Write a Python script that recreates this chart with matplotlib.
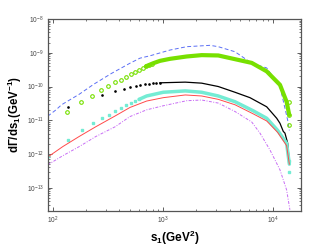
import numpy as np
import matplotlib
matplotlib.use("Agg")
import matplotlib.pyplot as plt

plt.rcParams['font.family'] = ['Liberation Sans', 'DejaVu Sans']
plt.rcParams['mathtext.fontset'] = 'custom'
plt.rcParams['mathtext.rm'] = 'Liberation Sans'
plt.rcParams['mathtext.bf'] = 'Liberation Sans:bold'

# ---- data (s1 in GeV^2, log10 of dGamma/ds1) ----
blue_s = [89, 106, 119, 172, 234, 339, 498, 614, 757, 1151, 1633, 2080, 2661, 3162, 4487, 6368, 8710, 11508, 13500, 14000]
blue_log = [-10.88, -10.69, -10.54, -10.23, -9.93, -9.61, -9.31, -9.16, -9.09, -8.92, -8.82, -8.80, -8.78, -8.82, -8.97, -9.31, -9.45, -10.0, -10.99, -11.3]

green_mk_s = [132, 180, 225, 272, 316, 366, 412, 460, 508, 555, 603, 649, 697, 741, 791, 14000, 14000, 14000]
green_mk_log = [-10.75, -10.46, -10.27, -10.11, -9.99, -9.88, -9.80, -9.72, -9.64, -9.57, -9.50, -9.45, -9.40, -9.36, -9.32, -10.45, -10.84, -11.14]
green_s = [697, 811, 933, 1151, 1633, 2234, 3162, 4487, 6368, 8710, 11508, 13213, 13964]
green_log = [-9.40, -9.31, -9.24, -9.18, -9.11, -9.07, -9.08, -9.19, -9.30, -9.55, -9.95, -10.45, -10.84]

black_dot_s = [135, 275, 366, 440, 500, 560, 620, 680, 740, 800, 860, 930]
black_dot_log = [-10.61, -10.25, -10.14, -10.06, -10.0, -9.97, -9.95, -9.93, -9.92, -9.91, -9.90, -9.89]
black_s = [930, 1585, 2234, 3162, 4487, 6138, 8710, 10740, 11508, 12331, 12764, 13521, 14000]
black_log = [-9.89, -9.87, -9.90, -10.0, -10.17, -10.33, -10.6, -10.94, -11.09, -11.33, -11.38, -11.68, -12.27]

cyan_mk_s = [89, 137, 182, 228, 277, 322, 366, 412, 460, 508, 555, 603, 14000, 14000]
cyan_mk_log = [-12.05, -11.58, -11.30, -11.09, -10.94, -10.83, -10.72, -10.63, -10.56, -10.49, -10.43, -10.38, -12.2, -12.52]
cyan_s = [603, 706, 1000, 1585, 2234, 3162, 4487, 6577, 8710, 10965, 13213, 14000]
cyan_log = [-10.38, -10.28, -10.17, -10.13, -10.17, -10.28, -10.45, -10.72, -10.94, -11.3, -11.68, -12.3]

red_s = [89, 122, 172, 244, 366, 498, 706, 1000, 1585, 2234, 3162, 4487, 6577, 8710, 10965, 13213, 14000]
red_log = [-12.09, -11.78, -11.48, -11.19, -10.87, -10.62, -10.43, -10.33, -10.25, -10.28, -10.38, -10.54, -10.81, -11.02, -11.36, -11.75, -12.3]

purple_s = [89, 122, 172, 244, 366, 498, 706, 1000, 1633, 2234, 3162, 4487, 6368, 7568, 9333, 11508, 13213, 14158]
purple_log = [-12.32, -12.05, -11.78, -11.48, -11.19, -10.89, -10.69, -10.57, -10.42, -10.40, -10.49, -10.74, -11.05, -11.38, -11.88, -12.47, -13.06, -13.65]

xticks = [1e2, 1e3, 1e4]
yticks = [1e-13, 1e-12, 1e-11, 1e-10, 1e-9, 1e-8]

# ---- figure ----
fig = plt.figure(figsize=(3.32, 2.5), dpi=100)
ax = fig.add_axes([48/332, 1-210.7/250, (300.7-48)/332, (210.7-19)/250])

def p(v):
    return 10.0 ** np.array(v)

c_blue = '#5b6ff5'
c_green = '#77e000'
c_cyan = '#74ecd4'
c_red = '#ff4a4a'
c_purple = '#c86cf5'

ax.plot(blue_s, p(blue_log), color=c_blue, lw=0.7, dashes=(4, 2.5))
ax.plot(green_s, p(green_log), color=c_green, lw=3.0, solid_capstyle='round')
ax.plot(green_mk_s, p(green_mk_log), ls='none', marker='o', ms=2.6, mfc='none', mec=c_green, mew=0.8)
ax.plot(black_s, p(black_log), color='black', lw=0.9)
ax.plot(black_dot_s, p(black_dot_log), ls='none', marker='o', ms=0.9, color='black')
ax.plot(cyan_s, p(cyan_log), color=c_cyan, lw=2.5, solid_capstyle='round')
ax.plot(cyan_mk_s, p(cyan_mk_log), ls='none', marker='s', ms=1.5, color=c_cyan)
ax.plot(red_s, p(red_log), color=c_red, lw=0.7)
ax.plot(purple_s, p(purple_log), color=c_purple, lw=0.7, dashes=(3, 1.5, 1, 1.5))

ax.set_xscale('log')
ax.set_yscale('log')
ax.set_xlim(89.6, 17750)
ax.set_ylim(2.1e-14, 1e-8)
ax.set_xticks(xticks)
ax.set_yticks(yticks)

ax.tick_params(which='both', direction='in', top=True, right=True, labelsize=4.8, colors='#444444', pad=3)
ax.tick_params(which='major', length=3, width=0.6)
ax.tick_params(which='minor', length=1.5, width=0.5)
for sp in ax.spines.values():
    sp.set_linewidth(0.9)
    sp.set_color('#555555')

ax.set_xlabel(r'$\mathbf{s_1}$(GeV$^\mathbf{2}$)', fontsize=8.5, fontweight='bold', labelpad=2)
ax.set_ylabel(r'd$\mathbf{\Gamma}$/ds$_\mathbf{1}$(GeV$^\mathbf{-1}$)', fontsize=8.3, fontweight='bold', labelpad=2)

fig.savefig('out.png', dpi=100)
